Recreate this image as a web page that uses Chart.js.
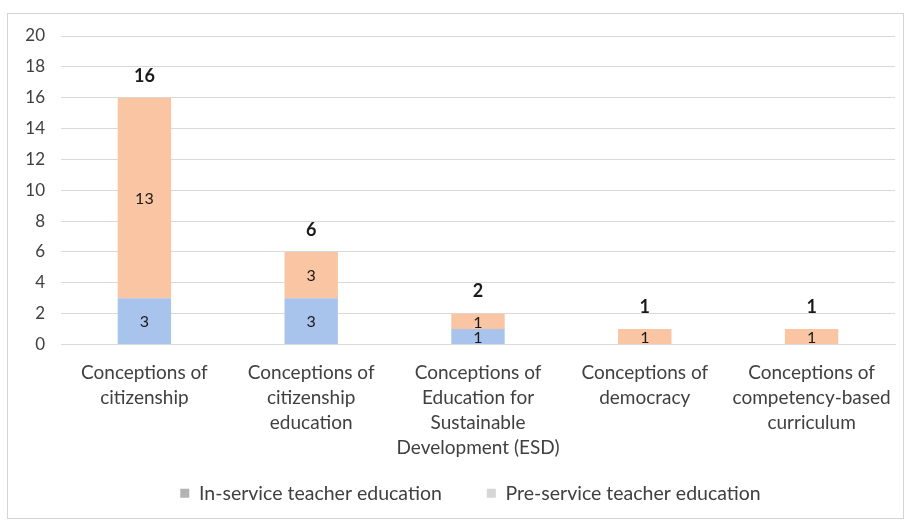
<!DOCTYPE html>
<html>
<head>
<meta charset="utf-8">
<script src="https://cdn.jsdelivr.net/npm/chart.js@4"></script>
<style>
  body{ margin:0; background:#fff; }
  #wrap{ width:909px; height:520px; }
</style>
</head>
<body>
<div id="wrap"><canvas id="myChart"></canvas></div>
<script>
const categories = [
    ["Conceptions of", "citizenship"],
    ["Conceptions of", "citizenship", "education"],
    ["Conceptions of", "Education for", "Sustainable", "Development (ESD)"],
    ["Conceptions of", "democracy"],
    ["Conceptions of", "competency-based", "curriculum"]
];
const inService = [3, 3, 1, 0, 0];
const preService = [13, 3, 1, 1, 1];
const yTicks = [0, 2, 4, 6, 8, 10, 12, 14, 16, 18, 20];

const blue = 'rgb(168, 196, 236)';
const orange = 'rgb(249, 197, 163)';
const fontName = 'Lato, "Open Sans", sans-serif';

// frame + white background
const frame = {
    id: 'frame',
    beforeDraw(chart){
        const ctx = chart.ctx;
        ctx.save();
        ctx.fillStyle = '#fff';
        ctx.fillRect(0, 0, chart.width, chart.height);
        ctx.strokeStyle = '#d4d4d4';
        ctx.lineWidth = 1;
        ctx.strokeRect(7.5, 13.5, 896, 505);
        ctx.restore();
    }
};

// segment values and totals
const valueLabels = {
    id: 'valueLabels',
    afterDatasetsDraw(chart){
        const ctx = chart.ctx;
        ctx.save();
        ctx.textAlign = 'center';
        ctx.textBaseline = 'middle';
        ctx.fillStyle = '#1a1a1a';
        ctx.font = '16px ' + fontName;
        chart.data.datasets.forEach((ds, d) => {
            const meta = chart.getDatasetMeta(d);
            meta.data.forEach((bar, i) => {
                if(!ds.data[i]) return;
                ctx.fillText(String(ds.data[i]), bar.x, (bar.y + bar.base) / 2 + 1);
            });
        });
        ctx.font = 'bold 18px ' + fontName;
        const yScale = chart.scales.y;
        categories.forEach((c, i) => {
            const total = inService[i] + preService[i];
            const x = chart.getDatasetMeta(0).data[i].x;
            ctx.fillText(String(total), x, yScale.getPixelForValue(total) - 22);
        });
        ctx.restore();
    }
};

const config = {
    type: 'bar',
    data: {
        labels: categories,
        datasets: [
            {
                label: 'In-service teacher education',
                data: inService,
                backgroundColor: blue,
                legendColor: '#b3b3b3'
            },
            {
                label: 'Pre-service teacher education',
                data: preService,
                backgroundColor: orange,
                legendColor: '#d6d6d6'
            }
        ]
    },
    options: {
        responsive: false,
        animation: false,
        devicePixelRatio: 1,
        maintainAspectRatio: false,
        datasets: {
            bar: {
                categoryPercentage: 1,
                barPercentage: 0.32
            }
        },
        layout: {
            padding: { top: 36, left: 0, right: 14, bottom: 7 }
        },
        plugins: {
            tooltip: { enabled: false },
            legend: {
                position: 'bottom',
                fullSize: false,
                labels: {
                    color: '#404040',
                    font: { family: fontName, size: 19.5 },
                    boxWidth: 9,
                    boxHeight: 9,
                    padding: 10,
                    generateLabels(chart){
                        return chart.data.datasets.map((ds, i) => ({
                            // trailing spaces set the gap between items and nudge the row left
                            text: i == 0 ? ds.label + '       ' : ds.label + '   ',
                            fillStyle: ds.legendColor,
                            strokeStyle: ds.legendColor,
                            lineWidth: 0,
                            fontColor: '#404040',
                            datasetIndex: i
                        }));
                    }
                }
            }
        },
        scales: {
            x: {
                stacked: true,
                grid: { display: false },
                border: { color: '#d9d9d9' },
                ticks: {
                    color: '#404040',
                    maxRotation: 0,
                    autoSkip: false,
                    padding: 8,
                    font: { family: fontName, size: 19, lineHeight: 1.32 }
                },
                afterFit(scale){ scale.height = 129; }
            },
            y: {
                stacked: true,
                min: 0,
                max: 20,
                afterBuildTicks(scale){
                    scale.ticks = yTicks.map(v => ({ value: v }));
                },
                grid: { color: '#d9d9d9', drawTicks: false },
                border: { display: false },
                ticks: {
                    color: '#404040',
                    padding: 16,
                    font: { family: fontName, size: 17 }
                },
                afterFit(scale){ scale.width = 61; }
            }
        }
    },
    plugins: [frame, valueLabels]
};

const canvas = document.getElementById('myChart');
canvas.width = 909;
canvas.height = 520;
new Chart(canvas, config);
</script>
</body>
</html>
